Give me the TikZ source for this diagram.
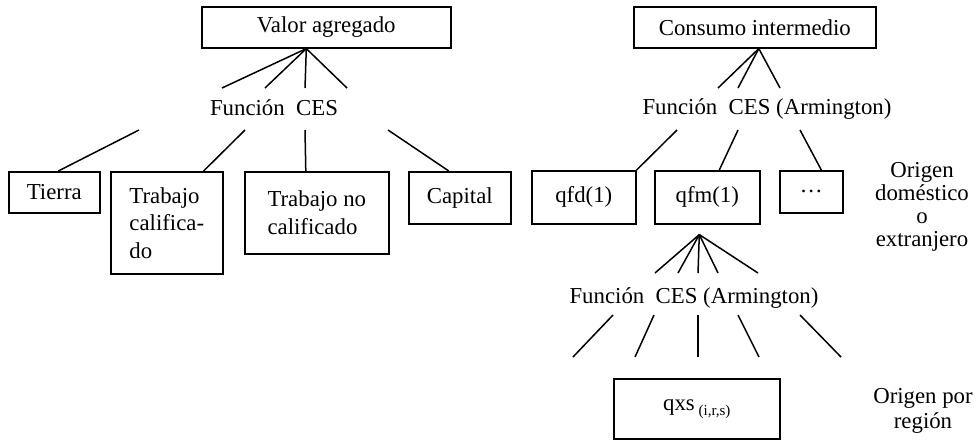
\documentclass[tikz,border=0pt]{standalone}
\usepackage{fontspec}
\setmainfont{Liberation Serif}
\usetikzlibrary{positioning}
\tikzset{ %pixel grid: 1 unit = 0.5pt
  >=latex,
  box/.style ={draw,line width=0.8pt,inner sep=0pt,anchor=north west,align=left},
  {label text/.style} ={inner sep=0pt,align=center},
  {edge/.style} ={line width=0.75pt,draw},
 }

\begin{document}
\begin{tikzpicture}[x=0.5pt,y=-0.5pt,font=\fontsize{11.4}{13.75}\selectfont]
        \useasboundingbox (0,0) rectangle (978,440);
        % valor agregado
        \node[box,minimum width=124.5pt,minimum height=20.5pt] (va) at (201,6) {Valor agregado};
        \node[label text] (f1) at (274,108) {Función\enspace CES};
        \node[box,minimum width=45.5pt,minimum height=20.5pt] (ti) at (8,171) {Tierra};
        \node[box,minimum width=56pt,minimum height=51pt] (tc) at (110,171) {Trabajo\\califica-\\do};
        \node[box,minimum width=72pt,minimum height=41pt] (tn) at (244,171) {Trabajo no\\calificado};
        \node[box,minimum width=51pt,minimum height=26pt] (ca) at (408,171) {Capital};
        \coordinate (a1) at (222,88); \coordinate (a2) at (265,88);
        \coordinate (a3) at (305,88); \coordinate (a4) at (347,88);
        \coordinate (b1) at (139,130); \coordinate (b2) at (245,130);
        \coordinate (b3) at (305,130); \coordinate (b4) at (388,130);
        \path[edge] ([xshift=-10pt]va.south) edge (a1) edge (a2) edge (a3) edge (a4);
        \path[edge] (b1) edge ([xshift=2pt]ti.north)
                (b2) edge ([xshift=-10pt]tc.north east)
                (b3) edge ([xshift=-5.5pt]tn.north)
                (b4) edge ([xshift=-5.5pt]ca.north);
        % consumo intermedio
        \node[box,minimum width=121pt,minimum height=20.5pt] (ci) at (633,6) {Consumo intermedio};
        \node[label text] (f2) at (767,109) {Función\enspace CES (Armington)};
        \node[box,minimum width=52pt,minimum height=26.5pt] (qd) at (531,170) {qfd(1)};
        \node[box,minimum width=52.5pt,minimum height=26.5pt] (qm) at (654,170) {qfm(1)};
        \node[box,minimum width=31.5pt,minimum height=21pt] (dots) at (779,170) {\ldots};
        \node[label text,font=\fontsize{11.4}{11.5}\selectfont] (o1) at (922,207)
                {Origen\\doméstico\\o\\extranjero};
        \coordinate (c1) at (718,88); \coordinate (c2) at (738,88); \coordinate (c3) at (780,88);
        \coordinate (d1) at (677,130); \coordinate (d2) at (738,130); \coordinate (d3) at (800,130);
        \path[edge] ([xshift=2pt]ci.south) edge (c1) edge (c2) edge (c3);
        \path[edge] (d1) edge (qd.north east)
                (d2) edge ([xshift=6pt]qm.north)
                (d3) edge ([xshift=5pt]dots.north);
        % origen por region
        \node[label text] (f3) at (694,298) {Función\enspace CES (Armington)};
        \node[box,minimum width=83pt,minimum height=30pt] (qx) at (613,378)
                {qxs\,\raisebox{-0.5ex}{\fontsize{7.5}{9}\selectfont (i,r,s)}};
        \node[label text,font=\fontsize{11.4}{12.5}\selectfont] (o2) at (923,411) {Origen por\\región};
        \coordinate (e1) at (655,273); \coordinate (e2) at (678,273); \coordinate (e3) at (698,273);
        \coordinate (e4) at (718,273); \coordinate (e5) at (758,273);
        \path[edge] ([shift={(-4pt,-5pt)}]qm.south) edge (e1) edge (e2) edge (e3) edge (e4) edge (e5);
        \coordinate (g1) at (613,315); \coordinate (h1) at (573,357);
        \coordinate (g2) at (654,315); \coordinate (h2) at (635,357);
        \coordinate (g3) at (698,315); \coordinate (h3) at (698,357);
        \coordinate (g4) at (738,315); \coordinate (h4) at (759,357);
        \coordinate (g5) at (800,315); \coordinate (h5) at (841,357);
        \path[edge] (g1) edge (h1) (g2) edge (h2) (g3) edge (h3) (g4) edge (h4) (g5) edge (h5);
\end{tikzpicture}
\end{document}
